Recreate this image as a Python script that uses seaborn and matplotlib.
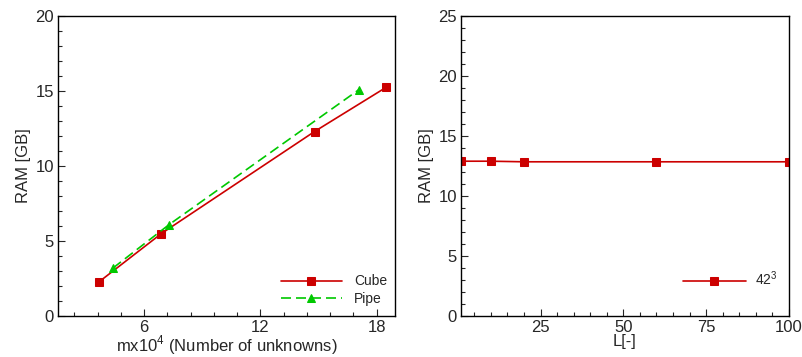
import matplotlib
matplotlib.use("Agg")
import matplotlib.pyplot as plt
import seaborn as sns
import pandas as pd
from matplotlib.ticker import MultipleLocator

cube_x = [3.7, 6.9, 14.8, 18.5]
cube_y = [2.3, 5.5, 12.3, 15.25]
pipe_x = [4.4, 7.3, 17.1]
pipe_y = [3.2, 6.1, 15.1]
l_x = [1, 10, 20, 60, 100]
l_y = [12.9, 12.9, 12.85, 12.85, 12.85]

sns.set_style("ticks")
plt.rcParams['font.family'] = ['Liberation Sans', 'DejaVu Sans']
plt.rcParams['mathtext.fontset'] = 'custom'
plt.rcParams['mathtext.rm'] = 'Liberation Sans'

red = "#CC0000"
green = "#00C800"

fig = plt.figure(figsize=(8.02, 3.57), dpi=100)
W, H = 802, 357
ax1 = fig.add_axes([58 / W, (H - 316) / H, 337 / W, 300 / H])
ax2 = fig.add_axes([461 / W, (H - 316) / H, 328 / W, 300 / H])

df_c = pd.DataFrame({"x": cube_x, "y": cube_y})
df_p = pd.DataFrame({"x": pipe_x, "y": pipe_y})
df_l = pd.DataFrame({"x": l_x, "y": l_y})

sns.lineplot(data=df_c, x="x", y="y", ax=ax1, color=red, marker="s", markersize=6,
             markeredgecolor=red, linewidth=1.2, label="Cube")
sns.lineplot(data=df_p, x="x", y="y", ax=ax1, color=green, marker="^", markersize=6,
             markeredgecolor=green, linewidth=1.2, dashes=(6, 3), label="Pipe")
sns.lineplot(data=df_l, x="x", y="y", ax=ax2, color=red, marker="s", markersize=6,
             markeredgecolor=red, linewidth=1.2, label="42$^{\\mathregular{3}}$")

ax1.set_xlim(1.56, 18.95)
ax1.set_ylim(0, 20)
ax1.xaxis.set_major_locator(MultipleLocator(6))
ax1.xaxis.set_minor_locator(MultipleLocator(1.2))
ax1.yaxis.set_major_locator(MultipleLocator(5))
ax1.yaxis.set_minor_locator(MultipleLocator(1))
ax1.set_xlabel("mx10$^{\\mathregular{4}}$ (Number of unknowns)", fontsize=12, labelpad=-1)
ax1.set_ylabel("RAM [GB]", fontsize=12, labelpad=3)

ax2.set_xlim(1, 100)
ax2.set_ylim(0, 25)
ax2.set_xticks([25, 50, 75, 100])
ax2.xaxis.set_minor_locator(MultipleLocator(5))
ax2.yaxis.set_major_locator(MultipleLocator(5))
ax2.yaxis.set_minor_locator(MultipleLocator(1))
ax2.set_xlabel("L[-]", fontsize=12, labelpad=-1)
ax2.set_ylabel("RAM [GB]", fontsize=12, labelpad=3)

for ax in (ax1, ax2):
    for s in ax.spines.values():
        s.set_linewidth(1.0)
        s.set_color("black")
    ax.tick_params(which="major", direction="in", length=5, width=0.8, labelsize=12,
                   top=False, right=False, pad=3)
    ax.tick_params(which="minor", direction="in", length=3, width=0.8,
                   top=False, right=False)

ax1.legend(loc="lower right", bbox_to_anchor=(0.976, 0.035), frameon=False, fontsize=10,
           handlelength=4.4, handletextpad=0.85, labelspacing=0.22, borderpad=0,
           borderaxespad=0)
ax2.legend(loc="lower right", bbox_to_anchor=(0.966, 0.092), frameon=False, fontsize=10,
           handlelength=4.5, handletextpad=0.7, borderpad=0, borderaxespad=0)

fig.savefig("out.png", dpi=100)
